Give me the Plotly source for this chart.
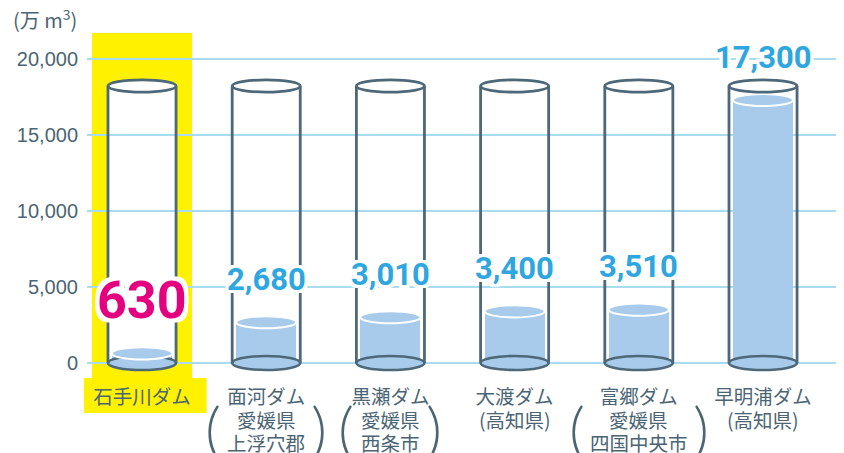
import plotly.graph_objects as go

# ---- data ----
dams = ["石手川ダム", "面河ダム", "黒瀬ダム", "大渡ダム", "富郷ダム", "早明浦ダム"]
prefs = ["", "愛媛県", "愛媛県", "(高知県)", "愛媛県", "(高知県)"]
cities = ["", "上浮穴郡", "西条市", "", "四国中央市", ""]
capacity = [630, 2680, 3010, 3400, 3510, 17300]
value_labels = ["630", "2,680", "3,010", "3,400", "3,510", "17,300"]
y_ticks = [0, 5000, 10000, 15000, 20000]
y_tick_labels = ["0", "5,000", "10,000", "15,000", "20,000"]
unit_label = "(万 m<sup>3</sup>)"
highlight_index = 0

# ---- style ----
SLATE = "#4b6574"
OUTLINE = "#4d6878"
WATER = "#a8cbec"
GRID = "#a9dcef"
BLUE = "#2ea6df"
PINK = "#e4007f"
YELLOW = "#fff100"
JP = "Noto Sans CJK JP"

GLASS_HW = 0.274      # glass half width (category units)
WATER_HW = 0.242      # water half width
GLASS_TOP = 18224     # glass rim level (axis units)
TOP_RY = 400
BOT_RY = 460
WT_RY = 400

def outline_shadow(px, color="#ffffff"):
    offs = []
    for dx in (-px, 0, px):
        for dy in (-px, 0, px):
            if dx or dy:
                offs.append(f"{dx}px {dy}px 0 {color}")
    offs.append(f"{px}px {px//2}px 0 {color}")
    offs.append(f"-{px}px {px//2}px 0 {color}")
    return ", ".join(offs)

fig = go.Figure()
fig.add_bar(
    x=dams, y=capacity, width=2 * WATER_HW,
    marker=dict(color=WATER, line=dict(width=0)),
    hoverinfo="skip", showlegend=False,
)

shapes = []
# highlight for first dam (paper coords)
shapes.append(dict(type="rect", xref="paper", yref="paper", x0=0.0066, x1=0.1387,
                   y0=0.0142, y1=0.9915, fillcolor=YELLOW, line=dict(width=0), layer="below"))
shapes.append(dict(type="rect", xref="paper", yref="paper", x0=-0.004, x1=0.158,
                   y0=-0.085, y1=0.0142, fillcolor=YELLOW, line=dict(width=0), layer="below"))

for i, v in enumerate(capacity):
    # white glass body (under gridlines)
    shapes.append(dict(type="rect", xref="x", yref="y", x0=i - GLASS_HW, x1=i + GLASS_HW,
                       y0=0, y1=GLASS_TOP, fillcolor="white", line=dict(width=0), layer="below"))
    shapes.append(dict(type="circle", xref="x", yref="y", x0=i - GLASS_HW, x1=i + GLASS_HW,
                       y0=GLASS_TOP - TOP_RY, y1=GLASS_TOP + TOP_RY, fillcolor="white",
                       line=dict(width=0), layer="below"))
    shapes.append(dict(type="circle", xref="x", yref="y", x0=i - GLASS_HW, x1=i + GLASS_HW,
                       y0=-BOT_RY, y1=BOT_RY, fillcolor="white", line=dict(width=0), layer="below"))

for i, v in enumerate(capacity):
    # bottom of glass with water
    shapes.append(dict(type="circle", xref="x", yref="y", x0=i - GLASS_HW, x1=i + GLASS_HW,
                       y0=-BOT_RY, y1=BOT_RY, fillcolor=WATER,
                       line=dict(color=OUTLINE, width=2.6), layer="above"))
    # water surface
    shapes.append(dict(type="circle", xref="x", yref="y", x0=i - WATER_HW, x1=i + WATER_HW,
                       y0=v - WT_RY, y1=v + WT_RY, fillcolor=WATER,
                       line=dict(color="white", width=2), layer="above"))
    # glass sides
    for sx in (i - GLASS_HW, i + GLASS_HW):
        shapes.append(dict(type="line", xref="x", yref="y", x0=sx, x1=sx, y0=0, y1=GLASS_TOP,
                           line=dict(color=OUTLINE, width=2.8), layer="above"))
    # rim
    shapes.append(dict(type="circle", xref="x", yref="y", x0=i - GLASS_HW, x1=i + GLASS_HW,
                       y0=GLASS_TOP - TOP_RY, y1=GLASS_TOP + TOP_RY, fillcolor="rgba(0,0,0,0)",
                       line=dict(color=OUTLINE, width=2.8), layer="above"))

annotations = []
for i, (v, lab) in enumerate(zip(capacity, value_labels)):
    if i == highlight_index:
        annotations.append(dict(x=dams[i], y=v, xref="x", yref="y", text=lab, showarrow=False,
                                yanchor="middle", yshift=53,
                                font=dict(family="Roboto", size=52, color=PINK, weight="bold",
                                          shadow=outline_shadow(4))))
    else:
        annotations.append(dict(x=dams[i], y=v, xref="x", yref="y", text=lab, showarrow=False,
                                yanchor="middle", yshift=43,
                                font=dict(family="Roboto", size=31, color=BLUE, weight="bold",
                                          shadow=outline_shadow(3))))

# second and third label lines + large parentheses
for i in range(len(dams)):
    if prefs[i]:
        annotations.append(dict(x=dams[i], y=-0.1048, xref="x", yref="paper", text=prefs[i],
                                showarrow=False, yanchor="middle",
                                font=dict(family=JP, size=19.5, color=SLATE)))
    if cities[i]:
        annotations.append(dict(x=dams[i], y=-0.168, xref="x", yref="paper", text=cities[i],
                                showarrow=False, yanchor="middle",
                                font=dict(family=JP, size=19.5, color=SLATE)))
        n = max(len(prefs[i]), len(cities[i]))
        half = 9 * n + 17
        for ch, sh in (("(", -half), (")", half)):
            annotations.append(dict(x=dams[i], y=-0.128, xref="x", yref="paper", text=ch,
                                    showarrow=False, yanchor="middle", xshift=sh,
                                    font=dict(family="Lato", size=62, color=SLATE, weight=300)))

annotations.append(dict(x=-0.1, y=1.03, xref="paper", yref="paper", text=unit_label,
                        showarrow=False, xanchor="left", yanchor="middle",
                        font=dict(family=JP, size=20, color=SLATE)))

fig.update_layout(
    width=836, height=445,
    margin=dict(l=79, r=0, t=22, b=70),
    paper_bgcolor="white", plot_bgcolor="rgba(0,0,0,0)",
    shapes=shapes, annotations=annotations,
    bargap=0, showlegend=False,
    xaxis=dict(type="category", range=[-0.443, 5.652], showgrid=False, zeroline=False,
               showline=False, ticks="", tickfont=dict(family=JP, size=19.5, color=SLATE),
               ticklabelstandoff=0, fixedrange=True),
    yaxis=dict(range=[-1316, 21908], tickvals=y_ticks, ticktext=y_tick_labels,
               showgrid=True, gridcolor=GRID, gridwidth=2, zeroline=False, showline=False,
               ticks="", tickfont=dict(family="Liberation Sans", size=20, color=SLATE),
               ticklabelstandoff=8, fixedrange=True),
)

fig.write_html("out.html")
